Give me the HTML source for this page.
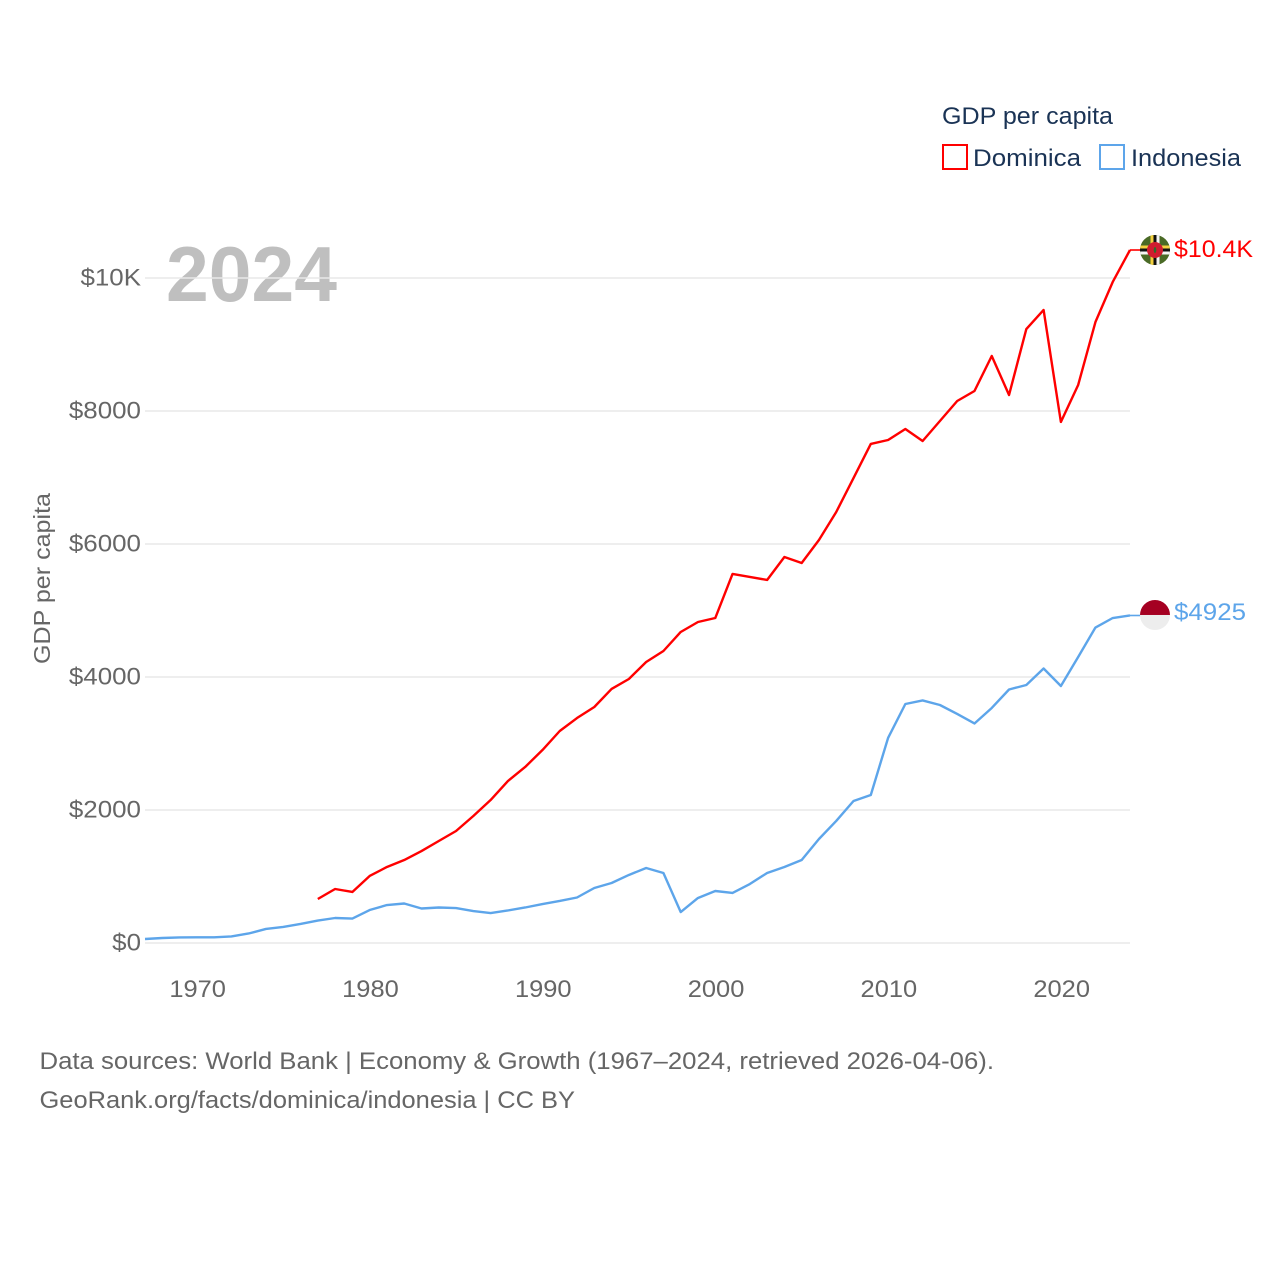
<!DOCTYPE html>
<html lang="en">
<head>
<meta charset="utf-8">
<title>GDP per capita: Dominica and Indonesia</title>
<style>
html,body{margin:0;padding:0;background:#fff;width:1280px;height:1280px;overflow:hidden}
svg{display:block}
text{font-family:"Liberation Sans",sans-serif}
</style>
</head>
<body>
<svg id="chart" xmlns="http://www.w3.org/2000/svg" width="1280" height="1280" viewBox="0 0 1280 1280">
  <defs>
    <clipPath id="flag-clip-a"><circle cx="0" cy="0" r="15"></circle></clipPath>
  </defs>
  <text x="166" y="301" font-size="78" font-weight="700" fill="#bfbfbf" textLength="171" lengthAdjust="spacingAndGlyphs">2024</text>
  <g id="grid"></g>
  <g id="y-ticks"></g>
  <g id="x-ticks"></g>
  <text transform="translate(50,578.5) rotate(-90)" text-anchor="middle" font-size="23.5" fill="#666666" textLength="171" lengthAdjust="spacingAndGlyphs">GDP per capita</text>
  <g id="series"></g>
  <g id="flag-dominica">
    <g clip-path="url(#flag-clip-a)">
      <rect x="-15" y="-15" width="30" height="30" fill="#4a6a26"></rect>
      <rect x="-4.5" y="-15" width="3" height="30" fill="#f4d03f"></rect>
      <rect x="-1.5" y="-15" width="3" height="30" fill="#111111"></rect>
      <rect x="1.5" y="-15" width="3" height="30" fill="#f5f5f5"></rect>
      <rect x="-15" y="-4.5" width="30" height="3" fill="#f4d03f"></rect>
      <rect x="-15" y="-1.5" width="30" height="3" fill="#111111"></rect>
      <rect x="-15" y="1.5" width="30" height="3" fill="#f5f5f5"></rect>
      <circle cx="0" cy="0" r="8" fill="#d01c2f"></circle>
      <ellipse cx="0" cy="0" rx="1.3" ry="3" fill="#2f6b2a"></ellipse>
    </g>
  </g>
  <g id="flag-indonesia">
    <g clip-path="url(#flag-clip-a)">
      <rect x="-15" y="-15" width="30" height="15" fill="#a50022"></rect>
      <rect x="-15" y="0" width="30" height="15" fill="#ededed"></rect>
    </g>
  </g>
  <text id="end-label-dominica" x="1174" font-size="24" fill="#ff0000" textLength="79" lengthAdjust="spacingAndGlyphs">$10.4K</text>
  <text id="end-label-indonesia" x="1174" font-size="24" fill="#5da5ea" textLength="72" lengthAdjust="spacingAndGlyphs">$4925</text>
  <g>
    <text x="942" y="124" font-size="24" fill="#1a3355" textLength="171" lengthAdjust="spacingAndGlyphs">GDP per capita</text>
    <g>
      <rect x="943" y="145" width="24" height="24" fill="#fff" stroke="#ff0000" stroke-width="2"></rect>
      <text x="973" y="166" font-size="24" fill="#1a3355" textLength="108" lengthAdjust="spacingAndGlyphs">Dominica</text>
    </g>
    <g>
      <rect x="1100" y="145" width="24" height="24" fill="#fff" stroke="#5da5ea" stroke-width="2"></rect>
      <text x="1131" y="166" font-size="24" fill="#1a3355" textLength="110" lengthAdjust="spacingAndGlyphs">Indonesia</text>
    </g>
  </g>
  <text x="39.5" y="1069" font-size="24" fill="#666666" textLength="954.5" lengthAdjust="spacingAndGlyphs">Data sources: World Bank | Economy &amp; Growth (1967–2024, retrieved 2026-04-06).</text>
  <text x="39.5" y="1108" font-size="24" fill="#666666" textLength="535.5" lengthAdjust="spacingAndGlyphs">GeoRank.org/facts/dominica/indonesia | CC BY</text>
</svg>
<script>
const startYear = 1967;
const endYear = 2024;
const dominicaFirstYear = 1977;
const dominicaValues = [662,812,767,1008,1143,1248,1383,1534,1684,1910,2150,2436,2647,2902,3188,3383,3549,3820,3970,4226,4391,4677,4827,4887,5549,5504,5459,5805,5714,6060,6481,6992,7504,7564,7729,7549,7850,8150,8301,8827,8241,9233,9519,7835,8391,9338,9940,10421];
const indonesiaValues = [60,75,83,86,86,98,143,211,241,286,338,376,368,496,571,594,519,534,526,481,451,489,534,586,632,684,827,902,1023,1128,1053,466,677,782,752,887,1053,1143,1248,1564,1835,2135,2226,3083,3594,3647,3579,3444,3301,3534,3812,3880,4128,3865,4301,4744,4887,4925];
const yTickValues = [0,2000,4000,6000,8000,10000];
const yTickLabels = ["$0","$2000","$4000","$6000","$8000","$10K"];
const xTickValues = [1970,1980,1990,2000,2010,2020];

const NS = "http://www.w3.org/2000/svg";
function xScale(year){ return 145 + (year - startYear) * (1130 - 145) / (endYear - startYear); }
function yScale(value){ return 943 - value * 0.0665; }
function pathFrom(firstYear, values){
  return values.map(function(v, i){
    return (i ? "L" : "M") + xScale(firstYear + i).toFixed(2) + " " + yScale(v).toFixed(2);
  }).join("");
}
function widen(label, factor){
  label.setAttribute("textLength", (label.getComputedTextLength() * factor).toFixed(1));
  label.setAttribute("lengthAdjust", "spacingAndGlyphs");
}

const grid = document.getElementById("grid");
const yTicks = document.getElementById("y-ticks");
yTickValues.forEach(function(v, i){
  const line = document.createElementNS(NS, "line");
  
  
  line.setAttribute("x1", xScale(startYear));
  line.setAttribute("x2", xScale(endYear));
  line.setAttribute("y1", yScale(v));
  line.setAttribute("y2", yScale(v));
  line.setAttribute("stroke", "#e8e8e8");
  line.setAttribute("stroke-width", "1.6");
  grid.appendChild(line);
  const label = document.createElementNS(NS, "text");
  
  
  label.setAttribute("x", 141);
  label.setAttribute("y", yScale(v) + 7.5);
  label.setAttribute("text-anchor", "end");
  label.setAttribute("font-size", "24");
  label.setAttribute("fill", "#666666");
  label.textContent = yTickLabels[i];
  yTicks.appendChild(label);
  widen(label, 1.08);
});

const xTicks = document.getElementById("x-ticks");
xTickValues.forEach(function(year){
  const label = document.createElementNS(NS, "text");
  
  
  label.setAttribute("x", xScale(year) + 0.8);
  label.setAttribute("y", 997);
  label.setAttribute("text-anchor", "middle");
  label.setAttribute("font-size", "24");
  label.setAttribute("fill", "#666666");
  label.textContent = String(year);
  xTicks.appendChild(label);
  widen(label, 1.06);
});

const series = document.getElementById("series");
const indonesiaLine = document.createElementNS(NS, "path");


indonesiaLine.setAttribute("d", pathFrom(startYear, indonesiaValues));
indonesiaLine.setAttribute("fill", "none");
indonesiaLine.setAttribute("stroke", "#5da5ea");
indonesiaLine.setAttribute("stroke-width", "2.4");
indonesiaLine.setAttribute("stroke-linejoin", "round");
series.appendChild(indonesiaLine);
const dominicaLine = document.createElementNS(NS, "path");


dominicaLine.setAttribute("d", pathFrom(dominicaFirstYear, dominicaValues));
dominicaLine.setAttribute("fill", "none");
dominicaLine.setAttribute("stroke", "#ff0000");
dominicaLine.setAttribute("stroke-width", "2.4");
dominicaLine.setAttribute("stroke-linejoin", "round");
series.appendChild(dominicaLine);

const dominicaEndY = yScale(dominicaValues[dominicaValues.length - 1]);
const indonesiaEndY = yScale(indonesiaValues[indonesiaValues.length - 1]);
const dominicaTail = document.createElementNS(NS, "line");


dominicaTail.setAttribute("x1", 1130);
dominicaTail.setAttribute("x2", 1141);
dominicaTail.setAttribute("y1", dominicaEndY);
dominicaTail.setAttribute("y2", dominicaEndY);
dominicaTail.setAttribute("stroke", "#ff0000");
dominicaTail.setAttribute("stroke-width", "1.6");
series.appendChild(dominicaTail);
const indonesiaTail = document.createElementNS(NS, "line");


indonesiaTail.setAttribute("x1", 1130);
indonesiaTail.setAttribute("x2", 1141);
indonesiaTail.setAttribute("y1", indonesiaEndY);
indonesiaTail.setAttribute("y2", indonesiaEndY);
indonesiaTail.setAttribute("stroke", "#5da5ea");
indonesiaTail.setAttribute("stroke-width", "1.6");
series.appendChild(indonesiaTail);

document.getElementById("flag-dominica").setAttribute("transform", "translate(1155," + dominicaEndY + ")");
document.getElementById("flag-indonesia").setAttribute("transform", "translate(1155," + (indonesiaEndY - 0.5) + ")");
document.getElementById("end-label-dominica").setAttribute("y", dominicaEndY + 7);
document.getElementById("end-label-indonesia").setAttribute("y", indonesiaEndY + 4.5);
</script>
</body>
</html>
